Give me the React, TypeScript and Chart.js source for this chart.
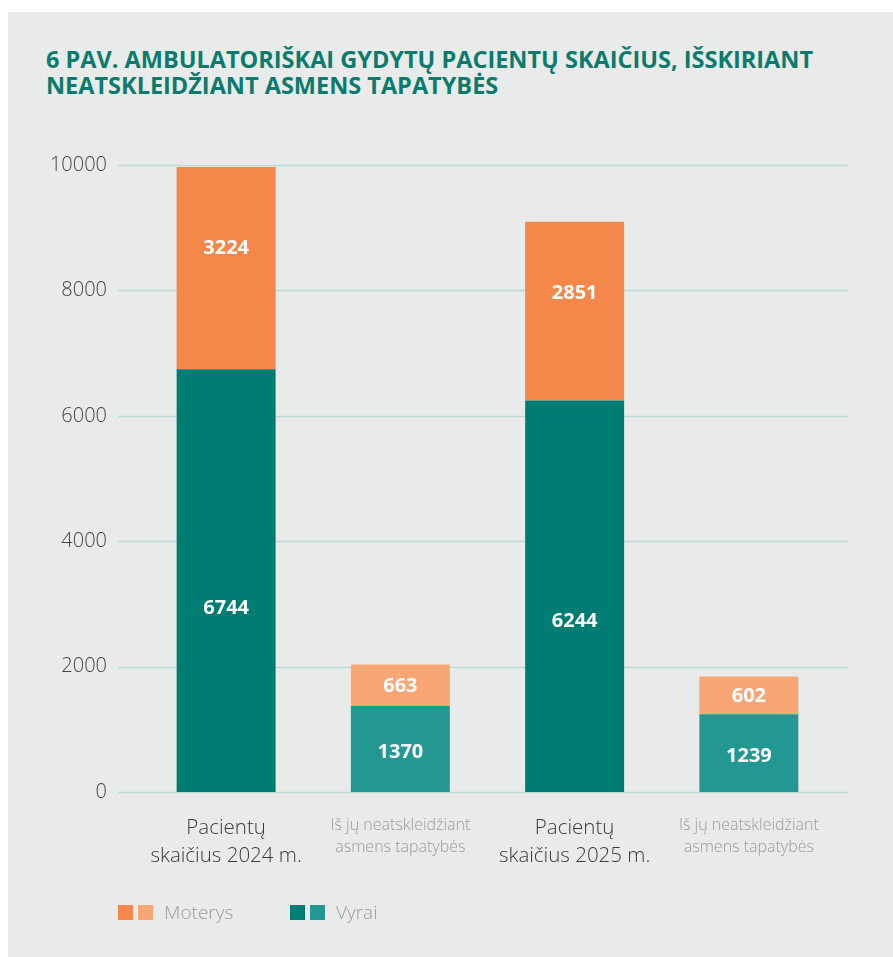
import { useEffect, useRef } from "react";
import { Chart, registerables } from "chart.js";

Chart.register(...registerables);

const titleLines = [
  "6 PAV. AMBULATORIŠKAI GYDYTŲ PACIENTŲ SKAIČIUS, IŠSKIRIANT",
  "NEATSKLEIDŽIANT ASMENS TAPATYBĖS",
];

const categories: string[][] = [
  ["Pacientų", "skaičius 2024 m."],
  ["Iš jų neatskleidžiant", "asmens tapatybės"],
  ["Pacientų", "skaičius 2025 m."],
  ["Iš jų neatskleidžiant", "asmens tapatybės"],
];
const isSubset = [false, true, false, true];

const vyrai = [6744, 1370, 6244, 1239];
const moterys = [3224, 663, 2851, 602];

const yMin = 0;
const yMax = 10000;
const yStep = 2000;

const seriesNames = ["Moterys", "Vyrai"];
const moterysColors = ["#f5874a", "#f9a676"];
const vyraiColors = ["#007d72", "#239893"];

const FONT = "'Open Sans', sans-serif";

const gridPlugin = {
  id: "customGrid",
  beforeDatasetsDraw(chart: any) {
    const { ctx, chartArea, scales } = chart;
    const y = scales.y;
    ctx.save();
    ctx.strokeStyle = "#bddad5";
    ctx.lineWidth = 1.3;
    y.ticks.forEach((t: any) => {
      const py = Math.round(y.getPixelForValue(t.value)) + 0.5;
      ctx.beginPath();
      ctx.moveTo(chartArea.left - 21, py);
      ctx.lineTo(chartArea.right + 12, py);
      ctx.stroke();
    });
    ctx.restore();
  },
};

const valueLabelPlugin = {
  id: "valueLabels",
  afterDatasetsDraw(chart: any) {
    const { ctx } = chart;
    ctx.save();
    ctx.fillStyle = "#ffffff";
    ctx.font = `700 20px ${FONT}`;
    ctx.textAlign = "center";
    ctx.textBaseline = "middle";
    chart.data.datasets.forEach((ds: any, di: number) => {
      const meta = chart.getDatasetMeta(di);
      meta.data.forEach((el: any, i: number) => {
        const { y, x, base } = el.getProps(["x", "y", "base"], true);
        const top = Math.min(y, base);
        const h = Math.abs(base - y);
        let frac = 0.5;
        if (di === 0) frac = h > 100 ? 0.565 : 0.54;
        else frac = h > 100 ? 0.4 : 0.53;
        ctx.fillText(String(ds.data[i]), x, top + frac * h);
      });
    });
    ctx.restore();
  },
};

export default function App() {
  const canvasRef = useRef<HTMLCanvasElement | null>(null);

  useEffect(() => {
    if (!canvasRef.current) return;
    const chart = new Chart(canvasRef.current, {
      type: "bar",
      data: {
        labels: categories,
        datasets: [
          {
            label: seriesNames[1],
            data: vyrai,
            backgroundColor: isSubset.map((s) => (s ? vyraiColors[1] : vyraiColors[0])),
            stack: "s",
            barPercentage: 0.568,
            categoryPercentage: 1,
          },
          {
            label: seriesNames[0],
            data: moterys,
            backgroundColor: isSubset.map((s) => (s ? moterysColors[1] : moterysColors[0])),
            stack: "s",
            barPercentage: 0.568,
            categoryPercentage: 1,
          },
        ],
      },
      options: {
        animation: false,
        responsive: false,
        maintainAspectRatio: false,
        layout: { padding: { left: 0, right: 57, top: 165, bottom: 85 } },
        plugins: {
          legend: { display: false },
          tooltip: { enabled: false },
          title: { display: false },
        },
        scales: {
          x: {
            stacked: true,
            grid: { display: false, drawTicks: false },
            border: { display: false },
            ticks: {
              padding: 22,
              maxRotation: 0,
              autoSkip: false,
              color: (c: any) => (isSubset[c.index] ? "#9b9b9b" : "#3a3a3a"),
              font: (c: any) =>
                isSubset[c.index]
                  ? { family: FONT, size: 16, weight: 300 as any, lineHeight: 1.375 }
                  : { family: FONT, size: 20.5, weight: 300 as any, lineHeight: 1.366 },
            },
            afterFit: (s: any) => {
              s.height = 80;
            },
          },
          y: {
            stacked: true,
            min: yMin,
            max: yMax,
            grid: { display: false, drawTicks: false },
            border: { display: false },
            ticks: {
              stepSize: yStep,
              padding: 32,
              color: "#444444",
              font: { family: FONT, size: 20, weight: 300 as any },
              callback: (v: any) => String(v),
            },
            afterFit: (s: any) => {
              s.width = 139;
            },
          },
        },
      },
      plugins: [gridPlugin, valueLabelPlugin],
    });
    return () => chart.destroy();
  }, []);

  const legendItems = [
    { name: seriesNames[0], colors: moterysColors, left: 118 },
    { name: seriesNames[1], colors: vyraiColors, left: 290 },
  ];

  return (
    <div>
      <div
        style={{
          position: "fixed",
          left: 8,
          top: 12,
          right: 0,
          bottom: 0,
          background: "#e9ebea",
        }}
      />
      <div
        style={{
          position: "fixed",
          left: 46,
          top: 46,
          color: "#0b7b6d",
          fontFamily: FONT,
          fontWeight: 700,
          fontSize: 23.5,
          lineHeight: "26px",
          fontStretch: "94%",
          whiteSpace: "nowrap",
        }}
      >
        {titleLines.map((l, i) => (
          <div key={i}>{l}</div>
        ))}
      </div>
      <canvas
        ref={canvasRef}
        width={893}
        height={957}
        style={{ position: "fixed", left: 0, top: 0, width: 893, height: 957 }}
      />
      {legendItems.map((it, i) => (
        <div
          key={i}
          style={{
            position: "fixed",
            left: it.left,
            top: 900,
            height: 24,
            display: "flex",
            alignItems: "center",
            fontFamily: FONT,
            fontWeight: 300,
            fontSize: 19,
            color: "#9b9b9b",
          }}
        >
          <span style={{ width: 15, height: 15, background: it.colors[0], display: "inline-block" }} />
          <span style={{ width: 15, height: 15, background: it.colors[1], display: "inline-block", marginLeft: 5 }} />
          <span style={{ marginLeft: 11 }}>{it.name}</span>
        </div>
      ))}
    </div>
  );
}
